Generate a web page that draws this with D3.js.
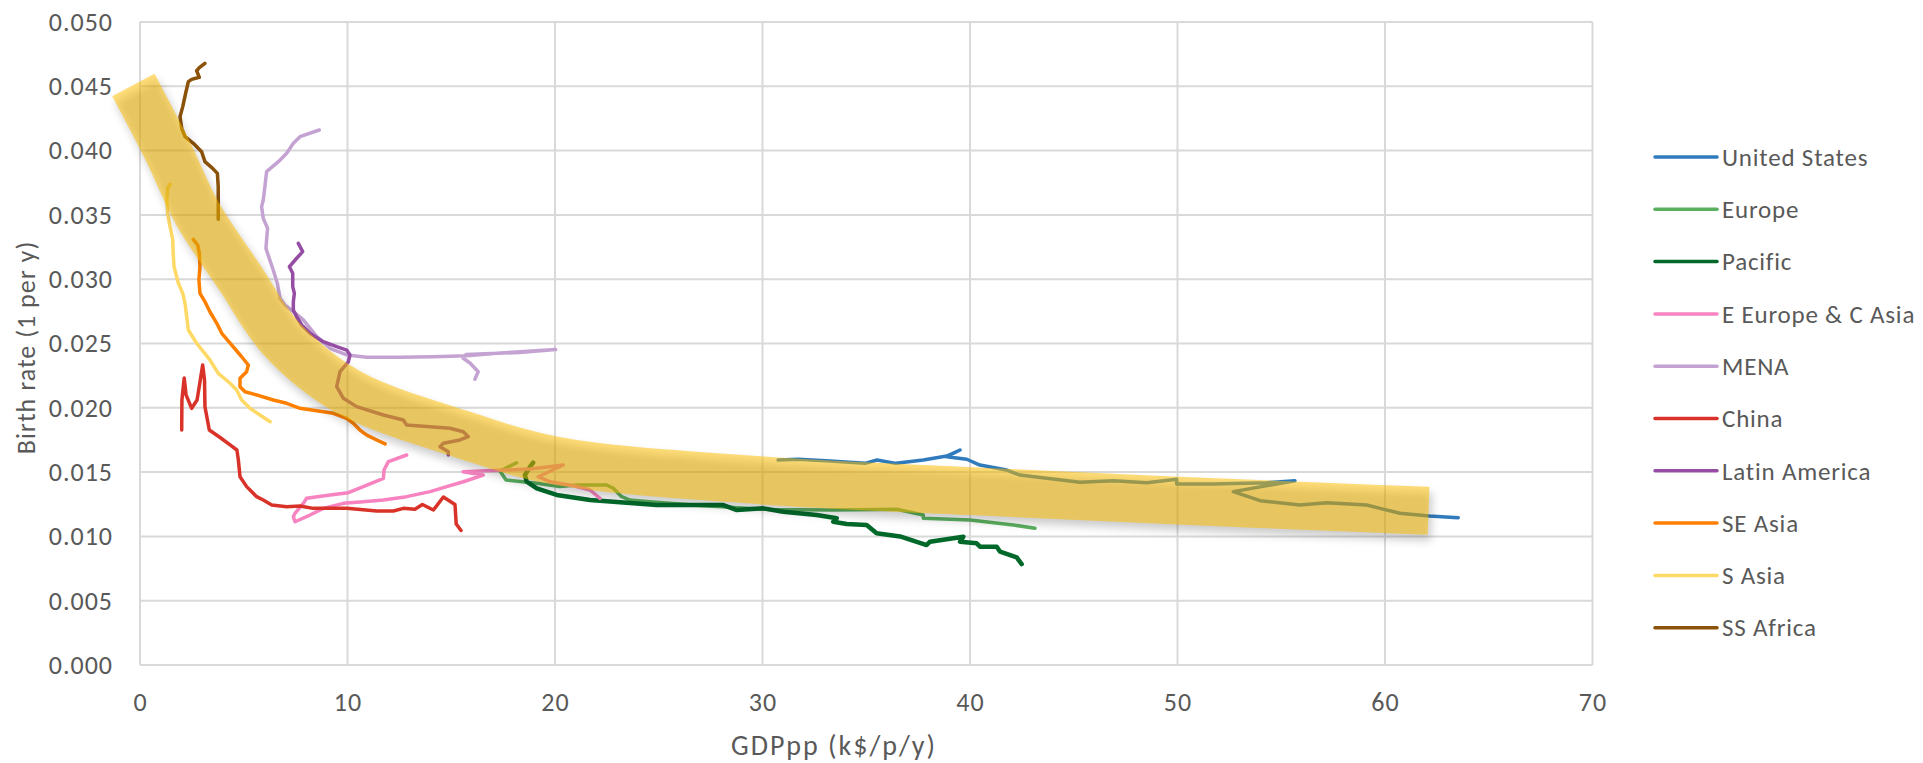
<!DOCTYPE html>
<html>
<head>
<meta charset="utf-8">
<script src="https://cdn.jsdelivr.net/npm/d3@7"></script>
<style>
  body { margin: 0; background: #fff; }
  text { font-family: Carlito, Calibri, Lato, sans-serif; }
</style>
</head>
<body>
<script>
// data: [GDPpp k$/p/y, birth rate per y]
const unitedStates = [[30.75,0.01594],[31.73,0.0160],[33.25,0.01586],[34.94,0.01568],[35.52,0.01594],[36.43,0.01568],[37.75,0.01594],[38.88,0.01625],[39.52,0.01672],[38.88,0.0162],[39.84,0.0160],[40.48,0.01555],[41.77,0.01516],[42.41,0.01477],[43.70,0.01452],[45.30,0.01421],[46.91,0.01433],[48.52,0.01418],[49.96,0.01444],[49.96,0.01407],[51.73,0.01407],[54.30,0.01418],[55.66,0.01433],[52.69,0.01348],[53.98,0.01278],[55.90,0.01244],[57.19,0.01262],[59.12,0.01244],[59.76,0.01218],[60.72,0.0118],[62.14,0.01159],[63.53,0.01145]]
const europe = [[18.15,0.01573],[17.35,0.01509],[17.64,0.01439],[19.12,0.01413],[20.24,0.01387],[21.05,0.0140],[22.49,0.0140],[22.81,0.01374],[23.21,0.01309],[23.61,0.01283],[24.58,0.0127],[26.99,0.0124],[30.36,0.01209],[33.25,0.01205],[35.66,0.01209],[36.47,0.01211],[37.75,0.01166],[37.75,0.01141],[40.0,0.01128],[42.09,0.01089],[43.13,0.01063]]
const pacific = [[18.95,0.01573],[18.80,0.01542],[18.55,0.01477],[18.64,0.01425],[19.12,0.01374],[20.08,0.01322],[21.69,0.01283],[24.90,0.01244],[26.99,0.01244],[28.11,0.01244],[28.76,0.01205],[30.04,0.01218],[31.0,0.01192],[32.61,0.01166],[33.58,0.01141],[33.41,0.01114],[34.06,0.01096],[35.02,0.01089],[35.50,0.01024],[36.63,0.0100],[37.91,0.00933],[38.07,0.00959],[39.68,0.00998],[39.52,0.00959],[40.32,0.00946],[40.48,0.0092],[41.29,0.0092],[41.45,0.00881],[42.25,0.00837],[42.49,0.00785]]
const eEuropeCAsia = [[12.85,0.01633],[11.97,0.01581],[11.76,0.01516],[11.73,0.01452],[10.76,0.01387],[10.04,0.0134],[9.16,0.01322],[8.03,0.01296],[7.87,0.01257],[7.47,0.0118],[7.39,0.01153],[7.47,0.01114],[8.19,0.01166],[8.83,0.01218],[9.80,0.01257],[10.76,0.0127],[11.73,0.01283],[12.85,0.01309],[13.98,0.01348],[14.78,0.01387],[15.58,0.01425],[16.54,0.01477],[15.57,0.01503],[18.80,0.01524],[20.40,0.01555],[19.19,0.01464],[19.76,0.01425],[20.96,0.01392],[21.69,0.01361],[22.17,0.01296]]
const mena = [[8.64,0.0416],[7.71,0.04108],[7.39,0.04057],[7.07,0.03979],[6.67,0.03914],[6.10,0.03836],[6.02,0.0372],[5.94,0.03616],[5.86,0.03564],[5.94,0.03473],[6.15,0.03396],[6.10,0.03305],[6.07,0.0324],[6.23,0.03162],[6.42,0.03072],[6.62,0.02968],[6.75,0.02851],[6.99,0.02799],[7.39,0.02747],[7.87,0.02683],[8.52,0.02553],[9.16,0.02463],[9.96,0.02411],[10.93,0.02393],[12.53,0.02393],[14.13,0.02397],[15.74,0.02405],[17.35,0.02426],[20.03,0.02453],[18.31,0.0243],[15.71,0.02415],[15.58,0.02385],[15.9,0.02348],[16.3,0.02281],[16.14,0.02222]]
const china = [[2.01,0.01827],[2.02,0.02061],[2.13,0.02232],[2.22,0.0210],[2.49,0.01996],[2.75,0.02061],[2.89,0.02201],[3.02,0.02333],[3.11,0.02216],[3.13,0.02009],[3.34,0.01827],[3.86,0.01769],[4.34,0.01711],[4.67,0.01672],[4.74,0.01594],[4.82,0.01464],[5.14,0.01387],[5.62,0.01309],[5.94,0.01283],[6.35,0.01244],[7.07,0.01231],[7.71,0.01236],[8.35,0.01218],[9.96,0.01218],[11.41,0.01198],[12.21,0.01198],[12.69,0.01218],[13.25,0.01211],[13.61,0.01248],[14.14,0.01205],[14.62,0.01306],[15.18,0.01248],[15.24,0.01096],[15.47,0.01046]]
const latinAmerica = [[7.63,0.03279],[7.84,0.03214],[7.55,0.03163],[7.20,0.03097],[7.36,0.03046],[7.36,0.02942],[7.44,0.0289],[7.39,0.02825],[7.39,0.02761],[7.55,0.02708],[7.79,0.02644],[8.19,0.02579],[8.83,0.02514],[9.48,0.02475],[9.96,0.02449],[10.12,0.02411],[10.04,0.02358],[9.64,0.02281],[9.48,0.02164],[9.80,0.02074],[10.44,0.02009],[11.73,0.01944],[12.69,0.01905],[12.85,0.01866],[13.98,0.01853],[14.94,0.01841],[15.58,0.01814],[15.82,0.01775],[15.42,0.0175],[14.62,0.01724],[14.46,0.01698],[14.86,0.01659],[14.86,0.01633]]
const seAsia = [[2.57,0.0331],[2.78,0.03266],[2.86,0.03201],[2.89,0.03097],[2.84,0.02994],[2.89,0.0289],[3.13,0.02825],[3.37,0.02747],[3.70,0.02657],[3.94,0.02579],[4.34,0.02502],[4.90,0.02397],[5.22,0.02333],[5.14,0.02281],[4.82,0.02229],[4.82,0.02164],[5.06,0.02125],[5.62,0.0210],[6.42,0.02061],[7.07,0.02035],[7.71,0.01996],[8.52,0.01977],[9.32,0.01957],[9.96,0.01918],[10.28,0.0188],[10.60,0.01827],[10.93,0.01788],[11.41,0.0175],[11.81,0.01719]]
const sAsia = [[1.45,0.03738],[1.33,0.03707],[1.29,0.03616],[1.33,0.03512],[1.45,0.03408],[1.58,0.03305],[1.60,0.03201],[1.64,0.03097],[1.85,0.02968],[2.06,0.0289],[2.17,0.02813],[2.33,0.02605],[2.73,0.02502],[3.37,0.02372],[3.77,0.02268],[4.34,0.02191],[4.66,0.02138],[4.90,0.02061],[5.30,0.01996],[5.78,0.01944],[6.27,0.01892]]
const ssAfrica = [[3.13,0.04679],[2.86,0.04645],[2.73,0.04621],[2.86,0.0457],[2.49,0.04554],[2.33,0.04536],[2.20,0.04446],[2.06,0.04342],[1.93,0.04264],[2.01,0.04173],[2.17,0.04108],[2.57,0.04057],[2.97,0.03991],[3.13,0.03914],[3.50,0.03862],[3.73,0.03823],[3.77,0.0372],[3.77,0.03616],[3.77,0.03466]]

// hand-drawn trend band
const trendX = [-0.32, 1.33, 2.77, 4.82, 6.8, 10, 15.6, 20, 30, 40, 50, 60, 62.1]
const trendY = [0.0451, 0.0400, 0.0351, 0.0301, 0.0254, 0.02125, 0.0179, 0.0159, 0.01435, 0.01352, 0.01278, 0.01212, 0.0120]

const seriesNames = ["United States", "Europe", "Pacific", "E Europe & C Asia", "MENA", "China", "Latin America", "SE Asia", "S Asia", "SS Africa"]
const seriesData = [unitedStates, europe, pacific, eEuropeCAsia, mena, china, latinAmerica, seAsia, sAsia, ssAfrica]
const seriesColors = ["#2f7bbd", "#5bb05f", "#00692a", "#f783c0", "#c4a3d3", "#d93228", "#964ea5", "#ff8000", "#ffd966", "#8b5209"]

const xTicks = [0, 10, 20, 30, 40, 50, 60, 70]
const yTicks = [0, 0.005, 0.01, 0.015, 0.02, 0.025, 0.03, 0.035, 0.04, 0.045, 0.05]

function drawChart() {
  let dimensions = {
    width: 1923,
    height: 763,
    margin: { top: 22, right: 330.5, bottom: 98, left: 140 },
  }
  dimensions.boundedWidth = dimensions.width - dimensions.margin.left - dimensions.margin.right
  dimensions.boundedHeight = dimensions.height - dimensions.margin.top - dimensions.margin.bottom

  const wrapper = d3.select("body")
    .append("svg")
      .attr("width", dimensions.width)
      .attr("height", dimensions.height)

  const defs = wrapper.append("defs")
  defs.append("filter")
      .attr("id", "soft")
      .attr("x", "-10%").attr("y", "-10%")
      .attr("width", "120%").attr("height", "120%")
    .append("feGaussianBlur")
      .attr("stdDeviation", 4)

  const bounds = wrapper.append("g")
    .attr("transform", `translate(${dimensions.margin.left},${dimensions.margin.top})`)

  const xScale = d3.scaleLinear()
    .domain([0, 70])
    .range([0, dimensions.boundedWidth])

  const yScale = d3.scaleLinear()
    .domain([0, 0.05])
    .range([dimensions.boundedHeight, 0])

  // gridlines
  bounds.append("g")
    .selectAll("line")
    .data(yTicks)
    .join("line")
      .attr("x1", 0)
      .attr("x2", dimensions.boundedWidth)
      .attr("y1", d => yScale(d))
      .attr("y2", d => yScale(d))
      .attr("stroke", "#d9d9d9")
      .attr("stroke-width", 2)

  bounds.append("g")
    .selectAll("line")
    .data(xTicks)
    .join("line")
      .attr("x1", d => xScale(d))
      .attr("x2", d => xScale(d))
      .attr("y1", 0)
      .attr("y2", dimensions.boundedHeight)
      .attr("stroke", "#d9d9d9")
      .attr("stroke-width", 2)

  // axes (labels only)
  const xAxisGenerator = d3.axisBottom(xScale)
    .tickValues(xTicks)
    .tickSize(0)
    .tickPadding(28)

  const xAxis = bounds.append("g")
    .attr("transform", `translate(0,${dimensions.boundedHeight})`)
    .call(xAxisGenerator)
  xAxis.select(".domain").remove()
  xAxis.selectAll("text")
    .attr("fill", "#595959")
    .style("font-size", "26px")
    .style("letter-spacing", "1px")

  const yAxisGenerator = d3.axisLeft(yScale)
    .tickValues(yTicks)
    .tickFormat(d3.format(".3f"))
    .tickSize(0)
    .tickPadding(27)

  const yAxis = bounds.append("g")
    .call(yAxisGenerator)
  yAxis.select(".domain").remove()
  yAxis.selectAll("text")
    .attr("fill", "#595959")
    .style("font-size", "26px")
    .style("letter-spacing", "1px")

  xAxis.append("text")
      .attr("x", 694)
      .attr("y", 90)
      .attr("fill", "#595959")
      .style("font-size", "28px")
      .style("letter-spacing", "2px")
      .style("text-anchor", "middle")
      .text("GDPpp (k$/p/y)")

  yAxis.append("text")
      .attr("transform", `translate(-105,${dimensions.boundedHeight / 2 + 4}) rotate(-90)`)
      .attr("fill", "#595959")
      .style("font-size", "26px")
      .style("letter-spacing", "1px")
      .style("text-anchor", "middle")
      .text("Birth rate (1 per y)")

  // series lines
  const lineGenerator = d3.line()
    .x(d => xScale(d[0]))
    .y(d => yScale(d[1]))

  bounds.append("g")
    .selectAll("path")
    .data(seriesData)
    .join("path")
      .attr("d", lineGenerator)
      .attr("fill", "none")
      .attr("stroke", (d, i) => seriesColors[i])
      .attr("stroke-width", (d, i) => i == 2 ? 4.5 : 3.5)
      .attr("stroke-linejoin", "round")
      .attr("stroke-linecap", "round")

  // trend band with shadow
  const trend = trendX.map((x, i) => [x, trendY[i]])
  const bandGenerator = d3.line()
    .x(d => xScale(d[0]))
    .y(d => yScale(d[1]))
    .curve(d3.curveCatmullRom)

  bounds.append("path")
      .attr("d", bandGenerator(trend))
      .attr("transform", "translate(3,6)")
      .attr("fill", "none")
      .attr("stroke", "#000")
      .attr("stroke-opacity", 0.2)
      .attr("stroke-width", 48)
      .attr("filter", "url(#soft)")

  bounds.append("path")
      .attr("d", bandGenerator(trend))
      .attr("fill", "none")
      .attr("stroke", "#ffc000")
      .attr("stroke-opacity", 0.52)
      .attr("stroke-width", 48)

  // legend
  const legend = wrapper.append("g")
    .attr("transform", "translate(1655,157)")

  const legendItems = legend.selectAll("g")
    .data(seriesNames)
    .join("g")
      .attr("transform", (d, i) => `translate(0,${i * 52.3})`)

  legendItems.append("line")
      .attr("x1", 0)
      .attr("x2", 62)
      .attr("stroke", (d, i) => seriesColors[i])
      .attr("stroke-width", 3.5)
      .attr("stroke-linecap", "round")

  legendItems.append("text")
      .attr("x", 67)
      .attr("dy", "0.35em")
      .attr("fill", "#595959")
      .style("font-size", "25px")
      .style("letter-spacing", "0.8px")
      .text(d => d)
}
drawChart()
</script>
</body>
</html>
